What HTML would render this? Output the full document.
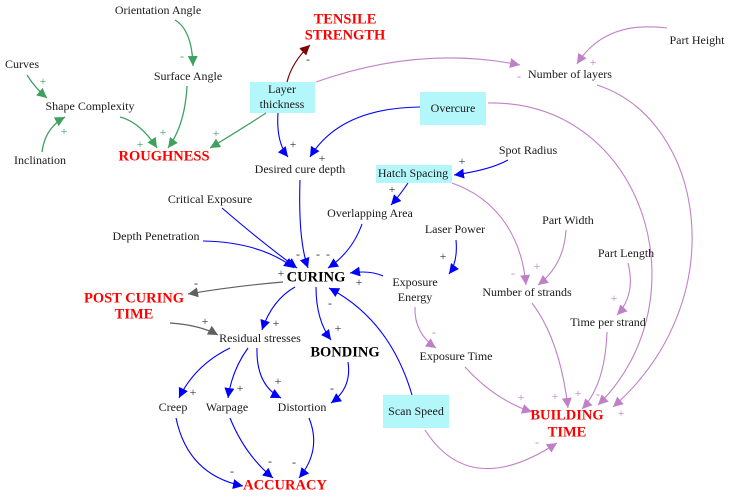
<!DOCTYPE html>
<html><head><meta charset="utf-8"><style>
html,body{margin:0;padding:0;background:#fff;}
svg{display:block;}
text{font-family:"Liberation Serif",serif;font-size:12px;fill:#1a1a1a;text-anchor:middle;dominant-baseline:middle;}
.r{fill:#ff0000;font-weight:bold;font-size:14.5px;}
.b{fill:#000;font-weight:bold;font-size:14.5px;}
.g{fill:#40a060;font-size:12px;}
.p{fill:#c080c8;font-size:12px;}
.k{fill:#333;font-size:12px;}
.eg{stroke:#40a060;fill:none;stroke-width:1.3;marker-end:url(#ag);}
.eb{stroke:#0000ff;fill:none;stroke-width:1.1;marker-end:url(#ab);}
.ep{stroke:#c080c8;fill:none;stroke-width:1.1;marker-end:url(#ap);}
.ek{stroke:#606060;fill:none;stroke-width:1.2;marker-end:url(#ak);}
.ed{stroke:#800000;fill:none;stroke-width:1.2;marker-end:url(#ad);}
</style></head><body>
<svg width="729" height="497" viewBox="0 0 729 497" xmlns="http://www.w3.org/2000/svg">
<defs>
<marker id="ag" viewBox="0 0 10 10" refX="10" refY="5" markerWidth="10" markerHeight="10" markerUnits="userSpaceOnUse" orient="auto"><path d="M0,0L10,5L0,10z" fill="#40a060"/></marker>
<marker id="ab" viewBox="0 0 10 10" refX="10" refY="5" markerWidth="10" markerHeight="10" markerUnits="userSpaceOnUse" orient="auto"><path d="M0,0L10,5L0,10z" fill="#0000ff"/></marker>
<marker id="ap" viewBox="0 0 10 10" refX="10" refY="5" markerWidth="10" markerHeight="10" markerUnits="userSpaceOnUse" orient="auto"><path d="M0,0L10,5L0,10z" fill="#c080c8"/></marker>
<marker id="ak" viewBox="0 0 10 10" refX="10" refY="5" markerWidth="10" markerHeight="10" markerUnits="userSpaceOnUse" orient="auto"><path d="M0,0L10,5L0,10z" fill="#606060"/></marker>
<marker id="ad" viewBox="0 0 10 10" refX="10" refY="5" markerWidth="10" markerHeight="10" markerUnits="userSpaceOnUse" orient="auto"><path d="M0,0L10,5L0,10z" fill="#800000"/></marker>
</defs>

<rect x="250" y="82" width="65" height="31" fill="#b3f7fa"/>
<rect x="420" y="92" width="66" height="33" fill="#b3f7fa"/>
<rect x="376" y="165" width="76" height="18" fill="#b3f7fa"/>
<rect x="383" y="395" width="66" height="33" fill="#b3f7fa"/>

<path class="eg" d="M175,20 Q192,30 193,66"/>
<path class="eg" d="M27,75 Q35,88 47,98"/>
<path class="eg" d="M42,152 Q45,128 65,117"/>
<path class="eg" d="M120,117 Q140,122 157,148"/>
<path class="eg" d="M187,86 Q185,125 168,148"/>
<path class="eg" d="M266,113 Q240,130 210,148"/>
<path class="ed" d="M287,82 Q292,62 310,45"/>

<path class="ep" d="M316,82 Q420,45 520,65"/>
<path class="ep" d="M667,28 Q605,20 577,64"/>
<path class="ep" d="M597,85 C705,120 735,300 613,407"/>
<path class="ep" d="M488,103 C645,100 705,300 598,405"/>
<path class="ep" d="M452,183 C500,200 522,240 526,285"/>
<path class="ep" d="M566,230 Q564,265 538,285"/>
<path class="ep" d="M628,263 Q636,295 617,315"/>
<path class="ep" d="M532,303 Q560,340 568,408"/>
<path class="ep" d="M607,332 Q605,385 582,409"/>
<path class="ep" d="M415,307 Q414,333 436,348"/>
<path class="ep" d="M465,367 Q495,400 532,412"/>
<path class="ep" d="M425,430 Q470,500 557,443"/>

<path class="eb" d="M278,113 Q276,142 288,157"/>
<path class="eb" d="M420,107 Q340,108 310,157"/>
<path class="eb" d="M300,180 Q298,240 308,268"/>
<path class="eb" d="M222,208 Q265,245 297,268"/>
<path class="eb" d="M203,241 Q260,242 294,268"/>
<path class="eb" d="M362,224 Q352,252 328,268"/>
<path class="eb" d="M408,183 Q400,195 391,205"/>
<path class="eb" d="M508,160 Q490,170 454,175"/>
<path class="eb" d="M456,240 Q458,262 449,274"/>
<path class="eb" d="M383,276 Q370,270 350,273"/>
<path class="eb" d="M412,395 Q390,320 329,288"/>
<path class="eb" d="M295,287 Q272,300 262,330"/>
<path class="eb" d="M316,287 Q316,320 331,340"/>
<path class="eb" d="M230,348 Q195,365 179,398"/>
<path class="eb" d="M248,348 Q232,370 228,398"/>
<path class="eb" d="M257,348 Q256,385 281,398"/>
<path class="eb" d="M348,362 Q352,388 331,403"/>
<path class="eb" d="M176,418 Q188,475 243,486"/>
<path class="eb" d="M230,418 Q245,455 273,478"/>
<path class="eb" d="M309,418 Q322,450 299,478"/>
<path class="ek" d="M283,282 Q235,286 188,294"/>
<path class="ek" d="M170,323 Q200,325 218,335"/>

<text x="158" y="11">Orientation Angle</text>
<text class="r" x="345" y="20">TENSILE</text>
<text class="r" x="345" y="36">STRENGTH</text>
<text x="22" y="65">Curves</text>
<text x="188" y="77">Surface Angle</text>
<text x="697" y="41">Part Height</text>
<text x="570" y="75">Number of layers</text>
<text x="282" y="90">Layer</text>
<text x="282" y="105">thickness</text>
<text x="90" y="107">Shape Complexity</text>
<text x="40" y="161">Inclination</text>
<text class="r" x="164" y="157">ROUGHNESS</text>
<text x="453" y="109">Overcure</text>
<text x="300" y="170">Desired cure depth</text>
<text x="528" y="151">Spot Radius</text>
<text x="413" y="174">Hatch Spacing</text>
<text x="210" y="200">Critical Exposure</text>
<text x="370" y="214">Overlapping Area</text>
<text x="568" y="221">Part Width</text>
<text x="455" y="230">Laser Power</text>
<text x="156" y="237">Depth Penetration</text>
<text x="626" y="254">Part Length</text>
<text class="b" x="316" y="278">CURING</text>
<text x="415" y="283">Exposure</text>
<text x="415" y="298">Energy</text>
<text x="527" y="293">Number of strands</text>
<text class="r" x="134" y="299">POST CURING</text>
<text class="r" x="134" y="315">TIME</text>
<text x="608" y="323">Time per strand</text>
<text class="b" x="345" y="353">BONDING</text>
<text x="260" y="339">Residual stresses</text>
<text x="456" y="357">Exposure Time</text>
<text x="416" y="412">Scan Speed</text>
<text x="173" y="408">Creep</text>
<text x="227" y="408">Warpage</text>
<text x="302" y="408">Distortion</text>
<text class="r" x="567" y="416">BUILDING</text>
<text class="r" x="567" y="433">TIME</text>
<text class="r" x="285" y="486">ACCURACY</text>

<text class="g" x="182" y="57">-</text>
<text class="g" x="43" y="82">+</text>
<text class="g" x="64" y="132">+</text>
<text class="g" x="140" y="145">+</text>
<text class="g" x="163" y="133">+</text>
<text class="g" x="216" y="134">+</text>
<text class="k" x="308" y="60">-</text>
<text class="p" x="519" y="77">-</text>
<text class="p" x="593" y="63">+</text>
<text class="p" x="513" y="274">-</text>
<text class="p" x="537" y="267">+</text>
<text class="p" x="614" y="299">+</text>
<text class="p" x="434" y="333">-</text>
<text class="p" x="521" y="398">+</text>
<text class="p" x="555" y="397">+</text>
<text class="p" x="578" y="394">+</text>
<text class="p" x="598" y="395">-</text>
<text class="p" x="621" y="414">+</text>
<text class="p" x="537" y="443">-</text>
<text class="k" x="293" y="145">+</text>
<text class="k" x="322" y="159">+</text>
<text class="k" x="298" y="255">-</text>
<text class="k" x="318" y="255">-</text>
<text class="k" x="328" y="255">-</text>
<text class="k" x="281" y="274">+</text>
<text class="k" x="392" y="190">+</text>
<text class="k" x="462" y="162">+</text>
<text class="k" x="443" y="257">+</text>
<text class="k" x="359" y="283">+</text>
<text class="k" x="276" y="324">+</text>
<text class="k" x="330" y="304">-</text>
<text class="k" x="338" y="329">+</text>
<text class="k" x="193" y="393">+</text>
<text class="k" x="240" y="389">+</text>
<text class="k" x="278" y="382">+</text>
<text class="k" x="332" y="389">-</text>
<text class="k" x="232" y="472">-</text>
<text class="k" x="270" y="462">-</text>
<text class="k" x="294" y="463">-</text>
<text class="k" x="196" y="284">-</text>
<text class="k" x="205" y="322">+</text>
</svg>
</body></html>
